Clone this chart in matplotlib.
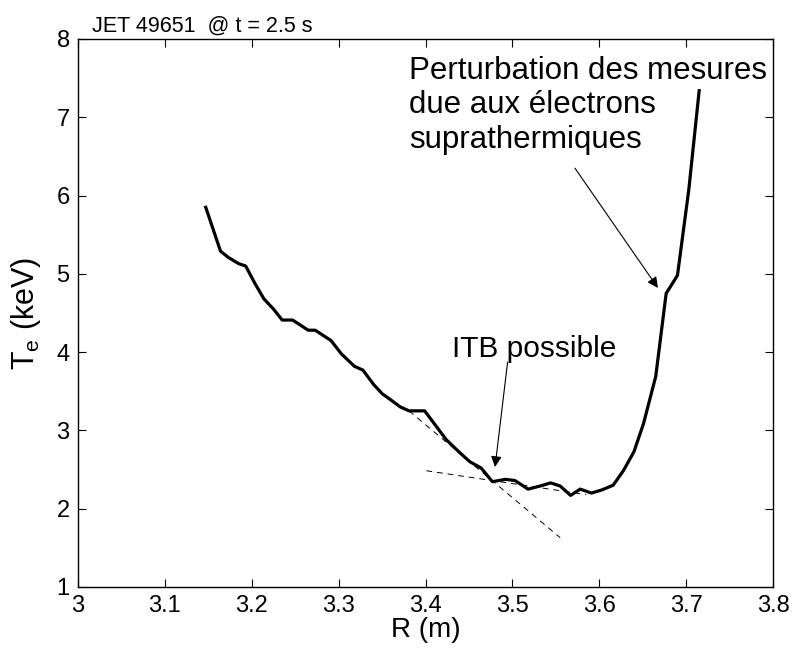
import numpy as np
import matplotlib
matplotlib.use("Agg")
import matplotlib.pyplot as plt
from matplotlib.ticker import FuncFormatter

plt.rcParams['font.family'] = ['Liberation Sans', 'DejaVu Sans']
plt.rcParams['mathtext.fontset'] = 'custom'
plt.rcParams['mathtext.rm'] = 'Liberation Sans'
plt.rcParams['mathtext.it'] = 'Liberation Sans'

# electron temperature profile, JET 49651 at t = 2.5 s
R = [3.147, 3.164, 3.173, 3.185, 3.193, 3.204, 3.214, 3.225, 3.235, 3.247,
     3.265, 3.273, 3.291, 3.303, 3.318, 3.328, 3.340, 3.350, 3.360, 3.371,
     3.381, 3.399, 3.424, 3.440, 3.451, 3.464, 3.477, 3.492, 3.503, 3.518,
     3.532, 3.544, 3.555, 3.567, 3.578, 3.591, 3.603, 3.616, 3.628, 3.640,
     3.651, 3.665, 3.677, 3.690, 3.703, 3.715]
Te = [5.85, 5.29, 5.21, 5.13, 5.10, 4.87, 4.68, 4.55, 4.41, 4.41,
      4.28, 4.28, 4.15, 3.98, 3.82, 3.77, 3.59, 3.47, 3.39, 3.30,
      3.25, 3.25, 2.88, 2.71, 2.60, 2.52, 2.345, 2.375, 2.36, 2.25,
      2.29, 2.33, 2.29, 2.17, 2.25, 2.20, 2.24, 2.30, 2.49, 2.73,
      3.09, 3.69, 4.75, 4.98, 6.07, 7.34]

# gradient fits on either side of the barrier
fit_in_R = [3.381, 3.555]
fit_in_Te = [3.25, 1.63]
fit_out_R = [3.401, 3.585]
fit_out_Te = [2.485, 2.18]

fig = plt.figure(figsize=(7.93, 6.52), dpi=100)
ax = fig.add_axes([0.0984, 0.0997, 0.8764, 0.8405])

ax.plot(fit_in_R, fit_in_Te, 'k--', lw=0.7, dashes=(6, 5))
ax.plot(fit_out_R, fit_out_Te, 'k--', lw=0.7, dashes=(6, 5))
ax.plot(R, Te, 'k-', lw=2.3)

arrow = dict(arrowstyle='-|>', color='k', lw=0.8, mutation_scale=16,
             shrinkA=0, shrinkB=0)
ax.annotate('', xy=(3.480, 2.533), xytext=(3.4945, 3.874), arrowprops=arrow)
ax.annotate('', xy=(3.6675, 4.82), xytext=(3.572, 6.35), arrowprops=arrow)

ax.text(3.430, 3.94, 'ITB possible', fontsize=21.5, ha='left', va='baseline')
ax.text(3.381, 6.607, 'Perturbation des mesures\ndue aux électrons\nsuprathermiques',
        fontsize=22.5, ha='left', va='baseline', linespacing=1.2)

ax.set_xlim(3, 3.8)
ax.set_ylim(1, 8)
ax.set_xticks(np.arange(3, 3.81, 0.1))
ax.set_yticks(range(1, 9))
ax.xaxis.set_major_formatter(FuncFormatter(lambda v, p: '%g' % round(v, 2)))
ax.tick_params(direction='in', length=6, width=0.8, top=True, right=True,
               labelsize=17, pad=6)
for s in ax.spines.values():
    s.set_linewidth(1.0)

ax.set_xlabel('R (m)', fontsize=20, labelpad=0)
ax.set_ylabel(r'T$_\mathregular{e}$ (keV)', fontsize=22, labelpad=10)
ax.set_title('JET 49651  @ t = 2.5 s', fontsize=15.5, loc='left', x=0.02, pad=5)

fig.savefig('out.png', dpi=100)
